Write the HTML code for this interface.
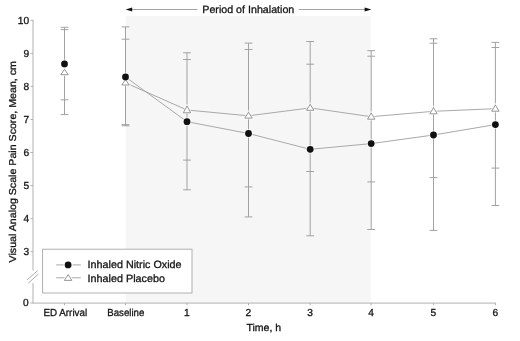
<!DOCTYPE html>
<html><head><meta charset="utf-8"><title>Figure</title>
<style>
html,body{margin:0;padding:0;background:#fff;}
svg{display:block;}
text{font-family:"Liberation Sans",Arial,Helvetica,sans-serif;fill:#151515;stroke:#151515;stroke-width:0.3px;text-rendering:geometricPrecision;}
</style></head><body>
<svg width="520" height="341" viewBox="0 0 520 341">
<rect width="520" height="341" fill="#fff"/>

<rect x="125.7" y="16.2" width="245" height="286.8" fill="#f6f6f6"/>
<g stroke="#b0b0b0" stroke-width="1" fill="none">
<path d="M33 20V270.5M33 283V303.1H495.9"/>
<path d="M30.5 20.3H33"/>
<path d="M30.5 53.4H33"/>
<path d="M30.5 86.4H33"/>
<path d="M30.5 119.5H33"/>
<path d="M30.5 152.5H33"/>
<path d="M30.5 185.6H33"/>
<path d="M30.5 218.7H33"/>
<path d="M30.5 251.7H33"/>
<path d="M30.5 303.1H33"/>
<path d="M64.5 303.1V305.3"/>
<path d="M125.5 303.1V305.3"/>
<path d="M187.0 303.1V305.3"/>
<path d="M248.5 303.1V305.3"/>
<path d="M310.2 303.1V305.3"/>
<path d="M371.2 303.1V305.3"/>
<path d="M433.5 303.1V305.3"/>
<path d="M495.4 303.1V305.3"/>
</g>
<g stroke="#888" stroke-width="0.7"><path d="M27.2 279.8L37.8 270.5"/><path d="M28.2 283.3L38.4 274"/></g>
<g stroke="#a2a2a2" stroke-width="1" fill="none">
<path d="M64.5 27.3V114.6"/>
<path d="M60.6 27.3H68.4"/>
<path d="M60.6 99.8H68.4"/>
<path d="M60.6 29.6H68.4"/>
<path d="M60.6 114.6H68.4"/>
<path d="M125.5 26.9V125.8"/>
<path d="M121.6 26.9H129.4"/>
<path d="M121.6 125.8H129.4"/>
<path d="M121.6 39.2H129.4"/>
<path d="M121.6 124.6H129.4"/>
<path d="M187.0 52.8V189.8"/>
<path d="M183.1 52.8H190.9"/>
<path d="M183.1 189.8H190.9"/>
<path d="M183.1 59.5H190.9"/>
<path d="M183.1 160.1H190.9"/>
<path d="M248.5 43.1V216.9"/>
<path d="M244.6 49.5H252.4"/>
<path d="M244.6 216.9H252.4"/>
<path d="M244.6 43.1H252.4"/>
<path d="M244.6 186.9H252.4"/>
<path d="M310.2 41.5V235.8"/>
<path d="M306.3 64.2H314.1"/>
<path d="M306.3 235.8H314.1"/>
<path d="M306.3 41.5H314.1"/>
<path d="M306.3 171.5H314.1"/>
<path d="M371.2 50.7V229.5"/>
<path d="M367.3 56.2H375.1"/>
<path d="M367.3 229.5H375.1"/>
<path d="M367.3 50.7H375.1"/>
<path d="M367.3 181.9H375.1"/>
<path d="M433.5 38.8V230.4"/>
<path d="M429.6 38.8H437.4"/>
<path d="M429.6 230.4H437.4"/>
<path d="M429.6 43.2H437.4"/>
<path d="M429.6 177.6H437.4"/>
<path d="M495.4 42.4V205.5"/>
<path d="M491.5 42.4H499.3"/>
<path d="M491.5 205.5H499.3"/>
<path d="M491.5 47.5H499.3"/>
<path d="M491.5 168.1H499.3"/>
</g>
<path d="M125.5 82.8 L187.0 110.0 L248.5 115.8 L310.2 107.9 L371.2 116.7 L433.5 111.3 L495.4 108.7" stroke="#a9a9a9" stroke-width="1" fill="none"/>
<path d="M125.5 77.0 L187.0 121.7 L248.5 133.5 L310.2 149.3 L371.2 143.6 L433.5 135.0 L495.4 124.6" stroke="#a9a9a9" stroke-width="1" fill="none"/>
<path d="M64.5 69.3L68.2 74.7H60.8Z" fill="#fff" stroke="#fff" stroke-opacity="0.6" stroke-width="2.6"/>
<path d="M64.5 69.3L68.2 74.7H60.8Z" fill="#fff" stroke="#8a8a8a" stroke-width="0.9"/>
<path d="M125.5 79.5L129.2 85.0H121.8Z" fill="#fff" stroke="#fff" stroke-opacity="0.6" stroke-width="2.6"/>
<path d="M125.5 79.5L129.2 85.0H121.8Z" fill="#fff" stroke="#8a8a8a" stroke-width="0.9"/>
<path d="M187.0 106.0L190.7 112.8H183.3Z" fill="#fff" stroke="#fff" stroke-opacity="0.6" stroke-width="2.6"/>
<path d="M187.0 106.0L190.7 112.8H183.3Z" fill="#fff" stroke="#8a8a8a" stroke-width="0.9"/>
<path d="M248.5 112.2L252.2 118.1H244.8Z" fill="#fff" stroke="#fff" stroke-opacity="0.6" stroke-width="2.6"/>
<path d="M248.5 112.2L252.2 118.1H244.8Z" fill="#fff" stroke="#8a8a8a" stroke-width="0.9"/>
<path d="M310.2 104.3L313.9 110.3H306.5Z" fill="#fff" stroke="#fff" stroke-opacity="0.6" stroke-width="2.6"/>
<path d="M310.2 104.3L313.9 110.3H306.5Z" fill="#fff" stroke="#8a8a8a" stroke-width="0.9"/>
<path d="M371.2 113.0L374.9 119.2H367.5Z" fill="#fff" stroke="#fff" stroke-opacity="0.6" stroke-width="2.6"/>
<path d="M371.2 113.0L374.9 119.2H367.5Z" fill="#fff" stroke="#8a8a8a" stroke-width="0.9"/>
<path d="M433.5 107.6L437.2 113.8H429.8Z" fill="#fff" stroke="#fff" stroke-opacity="0.6" stroke-width="2.6"/>
<path d="M433.5 107.6L437.2 113.8H429.8Z" fill="#fff" stroke="#8a8a8a" stroke-width="0.9"/>
<path d="M495.4 105.0L499.1 111.2H491.7Z" fill="#fff" stroke="#fff" stroke-opacity="0.6" stroke-width="2.6"/>
<path d="M495.4 105.0L499.1 111.2H491.7Z" fill="#fff" stroke="#8a8a8a" stroke-width="0.9"/>
<circle cx="64.5" cy="63.9" r="3.4" fill="#111" stroke="#fff" stroke-opacity="0.6" stroke-width="2" paint-order="stroke"/>
<circle cx="125.5" cy="77.0" r="3.4" fill="#111" stroke="#fff" stroke-opacity="0.6" stroke-width="2" paint-order="stroke"/>
<circle cx="187.0" cy="121.7" r="3.4" fill="#111" stroke="#fff" stroke-opacity="0.6" stroke-width="2" paint-order="stroke"/>
<circle cx="248.5" cy="133.5" r="3.4" fill="#111" stroke="#fff" stroke-opacity="0.6" stroke-width="2" paint-order="stroke"/>
<circle cx="310.2" cy="149.3" r="3.4" fill="#111" stroke="#fff" stroke-opacity="0.6" stroke-width="2" paint-order="stroke"/>
<circle cx="371.2" cy="143.6" r="3.4" fill="#111" stroke="#fff" stroke-opacity="0.6" stroke-width="2" paint-order="stroke"/>
<circle cx="433.5" cy="135.0" r="3.4" fill="#111" stroke="#fff" stroke-opacity="0.6" stroke-width="2" paint-order="stroke"/>
<circle cx="495.4" cy="124.6" r="3.4" fill="#111" stroke="#fff" stroke-opacity="0.6" stroke-width="2" paint-order="stroke"/>
<rect x="42.6" y="249.2" width="149.4" height="43.8" fill="#fff" stroke="#a8a8a8" stroke-width="0.9"/>
<path d="M56.2 264.9H80.8M56.2 277.8H80.8" stroke="#a9a9a9" stroke-width="1"/>
<circle cx="68.1" cy="264.9" r="3.4" fill="#111" stroke="#fff" stroke-width="2.4" paint-order="stroke"/>
<path d="M68.1 274.6L71.8 280.4H64.4Z" fill="#fff" stroke="#fff" stroke-width="3"/>
<path d="M68.1 274.6L71.8 280.4H64.4Z" fill="#fff" stroke="#8a8a8a" stroke-width="0.9"/>
<text x="87.6" y="268.1" font-size="10.6" textLength="94" lengthAdjust="spacingAndGlyphs">Inhaled Nitric Oxide</text>
<text x="87.6" y="281.5" font-size="10.6" textLength="77.3" lengthAdjust="spacingAndGlyphs">Inhaled Placebo</text>
<g stroke="#8c8c8c" stroke-width="0.8"><path d="M131 9.5H197.4"/><path d="M298.8 9.5H366"/></g>
<path d="M125.6 9.5L132.2 7.6V11.4Z" fill="#111"/>
<path d="M371.4 9.5L364.6 7.6V11.4Z" fill="#111"/>
<text x="202.3" y="12.9" font-size="10.6" textLength="92" lengthAdjust="spacingAndGlyphs">Period of Inhalation</text>
<text x="29.1" y="23.6" font-size="10.2" text-anchor="end">10</text>
<text x="29.1" y="56.7" font-size="10.2" text-anchor="end">9</text>
<text x="29.1" y="89.7" font-size="10.2" text-anchor="end">8</text>
<text x="29.1" y="122.8" font-size="10.2" text-anchor="end">7</text>
<text x="29.1" y="155.8" font-size="10.2" text-anchor="end">6</text>
<text x="29.1" y="188.9" font-size="10.2" text-anchor="end">5</text>
<text x="29.1" y="222.0" font-size="10.2" text-anchor="end">4</text>
<text x="29.1" y="255.0" font-size="10.2" text-anchor="end">3</text>
<text x="28.7" y="306.4" font-size="10.2" text-anchor="end">0</text>
<text x="65.3" y="315.5" font-size="10.2" text-anchor="middle" textLength="43.6" lengthAdjust="spacingAndGlyphs">ED Arrival</text>
<text x="125.8" y="315.5" font-size="10.2" text-anchor="middle" textLength="37.0" lengthAdjust="spacingAndGlyphs">Baseline</text>
<text x="186.9" y="315.5" font-size="10.2" text-anchor="middle">1</text>
<text x="248.4" y="315.5" font-size="10.2" text-anchor="middle">2</text>
<text x="310.1" y="315.5" font-size="10.2" text-anchor="middle">3</text>
<text x="371.1" y="315.5" font-size="10.2" text-anchor="middle">4</text>
<text x="433.4" y="315.5" font-size="10.2" text-anchor="middle">5</text>
<text x="495.3" y="315.5" font-size="10.2" text-anchor="middle">6</text>
<text x="246.4" y="330.5" font-size="10.2" textLength="34.7" lengthAdjust="spacingAndGlyphs">Time, h</text>
<text transform="translate(15.9 262.4) rotate(-90)" font-size="10" textLength="201.3" lengthAdjust="spacingAndGlyphs">Visual Analog Scale Pain Score, Mean, cm</text>
</svg></body></html>
